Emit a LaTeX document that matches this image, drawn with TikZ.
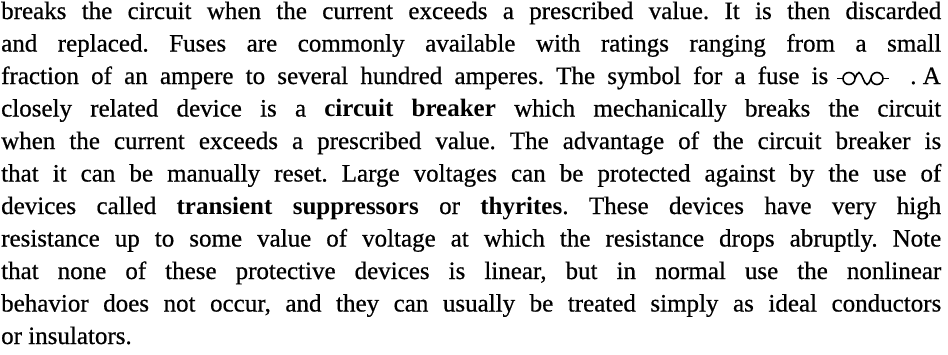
\documentclass[tikz,border=0pt]{standalone}
\usepackage{fontspec}
\setmainfont{Liberation Serif}[UprightFeatures={FakeBold=0.6}]
\newcommand{\bodyfont}{\fontsize{25}{32.5}\selectfont\frenchspacing}
% one justified line of the page
\newcommand{\jline}[2]{\makebox[#1pt][s]{#2}}
\tikzset{
  textline/.style={anchor=base west,inner sep=0pt,font=\bodyfont},
  fuseline/.style={line width=1.6pt}
}
\begin{document}
\begin{tikzpicture}[x=1pt,y=1pt]
\useasboundingbox (0,0) rectangle (948,-354);
\node[textline] (l1) at (1,-19.0) {\jline{940}{breaks the circuit when the current exceeds a prescribed value. It is then discarded}};
\node[textline] (l2) at (1,-51.5) {\jline{940}{and replaced. Fuses are commonly available with ratings ranging from a small}};
\node[textline] (l3a) at (1,-84.0) {\jline{827}{fraction of an ampere to several hundred amperes. The symbol for a fuse is}};
\node[textline,anchor=base east] (l3b) at (941,-84.0) {. A};
\node[textline] (l4) at (1,-116.5) {\jline{940}{closely related device is a \textbf{circuit breaker} which mechanically breaks the circuit}};
\node[textline] (l5) at (1,-149.0) {\jline{940}{when the current exceeds a prescribed value. The advantage of the circuit breaker is}};
\node[textline] (l6) at (1,-181.5) {\jline{940}{that it can be manually reset. Large voltages can be protected against by the use of}};
\node[textline] (l7) at (1,-214.0) {\jline{940}{devices called \textbf{transient suppressors} or \textbf{thyrites}. These devices have very high}};
\node[textline] (l8) at (1,-246.5) {\jline{940}{resistance up to some value of voltage at which the resistance drops abruptly. Note}};
\node[textline] (l9) at (1,-279.0) {\jline{940}{that none of these protective devices is linear, but in normal use the nonlinear}};
\node[textline] (l10) at (1,-311.5) {\jline{940}{behavior does not occur, and they can usually be treated simply as ideal conductors}};
\node[textline] (l11) at (1,-344.0) {or insulators.};
% fuse symbol
\draw[fuseline] (837,-78.5) -- (843,-78.5);
\draw[fuseline] (849,-78.5) circle[radius=6];
\draw[fuseline] (855,-78.5) sin (859,-72.5) cos (863,-78.5) sin (867,-84.5) cos (871,-78.5);
\draw[fuseline] (877,-78.5) circle[radius=6];
\draw[fuseline] (883,-78.5) -- (889,-78.5);
\end{tikzpicture}
\end{document}
